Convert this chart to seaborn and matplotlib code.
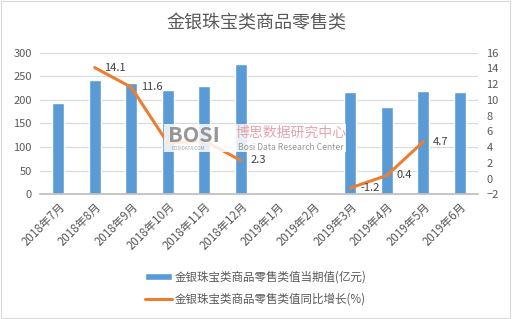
import matplotlib
matplotlib.use("Agg")
import matplotlib.pyplot as plt
import seaborn as sns
import numpy as np
import pandas as pd
from matplotlib.patches import Patch, Rectangle
from matplotlib.lines import Line2D

months = ["2018年7月", "2018年8月", "2018年9月", "2018年10月", "2018年11月", "2018年12月",
          "2019年1月", "2019年2月", "2019年3月", "2019年4月", "2019年5月", "2019年6月"]
values = [194, 242, 236, 221, 230, 276, np.nan, np.nan, 217, 185, 219, 217]
growth = [np.nan, 14.1, 11.6, 4.5, 4.8, 2.3, np.nan, np.nan, -1.2, 0.4, 4.7, np.nan]
growth_labels = {1: "14.1", 2: "11.6", 5: "2.3", 8: "-1.2", 9: "0.4", 10: "4.7"}
segment = [0, 0, 0, 0, 0, 0, 1, 1, 1, 1, 1, 1]

title = "金银珠宝类商品零售类"
bar_name = "金银珠宝类商品零售类值当期值(亿元)"
line_name = "金银珠宝类商品零售类值同比增长(%)"

sns.set_theme(style="white")
plt.rcParams['font.family'] = ['Noto Sans CJK SC', 'DejaVu Sans']
gray = "#595959"

df = pd.DataFrame({"month": months, "value": values, "growth": growth,
                   "pos": np.arange(len(months)), "seg": segment})

fig = plt.figure(figsize=(5.12, 3.19), dpi=100)
ax = fig.add_axes([0.078, 0.391, 0.856, 0.444])

sns.barplot(data=df, x="month", y="value", color="#5B9BD5", width=0.33,
            saturation=1, ax=ax, zorder=2)
ax.set_ylim(0, 300)
ax.set_yticks(range(0, 301, 50))
ax.set_xlim(-0.5, 11.5)
ax.grid(axis="y", color="#d9d9d9", linewidth=0.8, zorder=0)
ax.set_axisbelow(True)
ax.set_xlabel("")
ax.set_ylabel("")
for s in ["top", "right", "left"]:
    ax.spines[s].set_visible(False)
ax.spines["bottom"].set_color("#bfbfbf")
ax.tick_params(axis="y", length=0, labelsize=8, labelcolor=gray, pad=6)
ax.set_xticks(range(12))
ax.set_xticklabels(months, rotation=45, ha="right", rotation_mode="anchor",
                   fontsize=8.3, color=gray)
ax.tick_params(axis="x", length=0, pad=4)
ax.set_xticks(np.arange(-0.5, 12, 1), minor=True)
ax.tick_params(axis="x", which="minor", length=4, color="#bfbfbf", direction="out")

ax2 = ax.twinx()
sns.lineplot(data=df.dropna(subset=["growth"]), x="pos", y="growth", units="seg",
             estimator=None, color="#ED7D31", linewidth=2.2, ax=ax2, legend=False)
ax2.set_ylim(-2, 16)
ax2.set_yticks(range(-2, 17, 2))
ax2.set_xlim(-0.5, 11.5)
ax2.set_ylabel("")
ax2.set_xlabel("")
for s in ["top", "right", "left", "bottom"]:
    ax2.spines[s].set_visible(False)
ax2.tick_params(axis="y", length=0, labelsize=8, labelcolor=gray, pad=6)

for i, lab in growth_labels.items():
    ax2.annotate(lab, (df["pos"][i], df["growth"][i]), xytext=(7, 0),
                 textcoords="offset points", va="center", ha="left",
                 fontsize=8, color="#404040")

fig.text(0.5, 1 - 23 / 319, title, ha="center", va="center", fontsize=13, color=gray)

handles = [Patch(facecolor="#5B9BD5"), Line2D([0], [0], color="#ED7D31", linewidth=2.2)]
fig.legend(handles, [bar_name, line_name], loc="center", bbox_to_anchor=(0.5, 1 - 288 / 319),
           frameon=False, fontsize=8.3, labelcolor=gray, handlelength=2.3,
           handleheight=0.5, labelspacing=0.8, handletextpad=0.3)

# watermark
fig.patches.append(Rectangle((164 / 512, 1 - 152 / 319), 182 / 512, 28 / 319,
                             transform=fig.transFigure, facecolor="white", alpha=0.85,
                             edgecolor="none", zorder=9))
fig.text(168 / 512, 1 - 135 / 319, "BOSI", fontsize=15.5, fontweight="bold", color="#8c8c8c",
         alpha=0.9, ha="left", va="center", zorder=10)
fig.text(172 / 512, 1 - 149 / 319, "BOSIDATA.COM", fontsize=3.3, color="#8c8c8c",
         alpha=0.8, ha="left", va="center", zorder=10)
fig.text(235 / 512, 1 - 133 / 319, "博思数据研究中心", fontsize=10, color="#e39aa4",
         alpha=0.9, ha="left", va="center", zorder=10)
fig.text(238 / 512, 1 - 147 / 319, "Bosi Data Research Center", fontsize=6.2, color="#8c8c8c",
         alpha=0.9, ha="left", va="center", zorder=10)

fig.patches.append(Rectangle((0.002, 0.003), 0.994, 0.994, transform=fig.transFigure,
                             fill=False, edgecolor="#d9d9d9", linewidth=0.8))

fig.savefig("out.png", dpi=100)
